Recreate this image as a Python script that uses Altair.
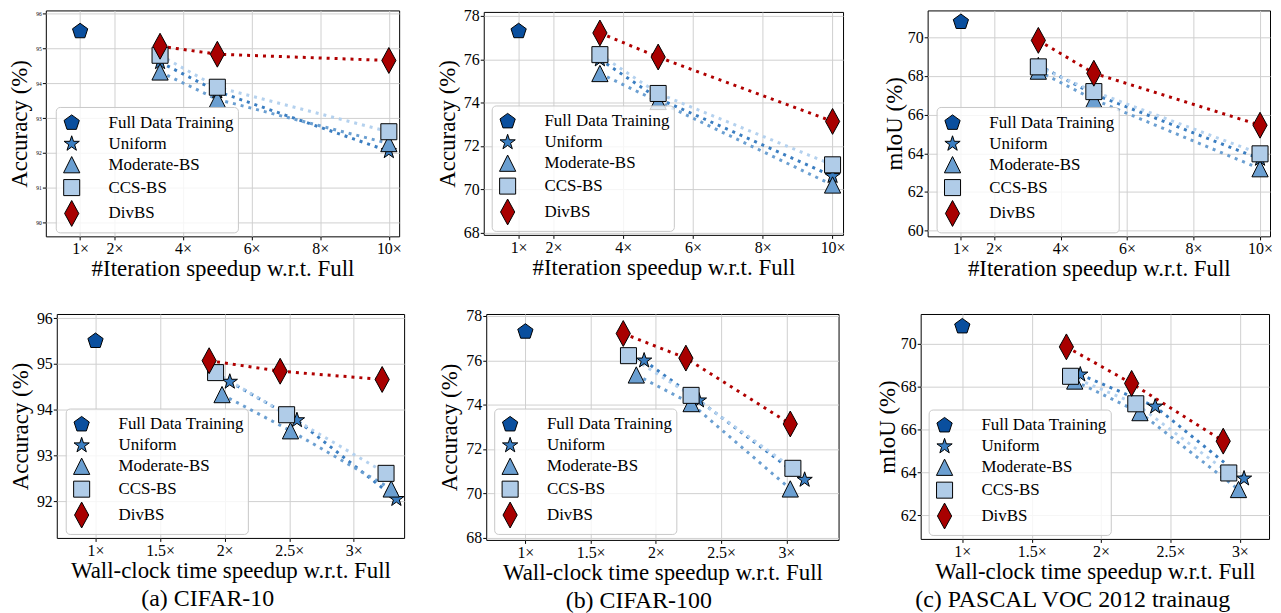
import math
import altair as alt
import pandas as pd

SERIF = "Liberation Serif"

METHODS = ["Full Data Training", "Uniform", "Moderate-BS", "CCS-BS", "DivBS"]
FILL_COLORS = ["#0a4f9e", "#3b7ec1", "#6b9fd1", "#b0cce8", "#a80000"]
LINE_COLORS = ["#3b7ec1", "#6b9fd1", "#b4d1ee", "#b00000"]
EDGE_COLORS = ["black"] * 5

# x positions
FULL_X = 1
ITER_X = [3.33, 5, 10]

# CIFAR-10
c10_full = 95.5
c10_uniform = [94.61, 93.77, 92.05]
c10_moderate = [94.33, 93.54, 92.27]
c10_ccs = [94.81, 93.89, 92.61]
c10_divbs = [95.07, 94.84, 94.66]
c10_wall_uniform = [2.04, 2.56, 3.33]
c10_wall_moderate = [1.98, 2.51, 3.29]
c10_wall_ccs = [1.93, 2.48, 3.25]
c10_wall_divbs = [1.88, 2.43, 3.22]

# CIFAR-100
c100_full = 77.29
c100_uniform = [75.99, 74.19, 70.61]
c100_moderate = [75.34, 74.05, 70.2]
c100_ccs = [76.21, 74.42, 71.13]
c100_divbs = [77.21, 76.1, 73.13]
c100_wall_uniform = [1.91, 2.33, 3.14]
c100_wall_moderate = [1.85, 2.27, 3.03]
c100_wall_ccs = [1.79, 2.27, 3.05]
c100_wall_divbs = [1.75, 2.23, 3.03]

# PASCAL VOC 2012 trainaug
voc_full = 70.79
voc_uniform = [68.55, 67.06, 63.71]
voc_moderate = [68.25, 66.78, 63.2]
voc_ccs = [68.47, 67.19, 63.97]
voc_divbs = [69.84, 68.14, 65.45]
voc_wall_uniform = [1.85, 2.39, 3.03]
voc_wall_moderate = [1.81, 2.28, 2.99]
voc_wall_ccs = [1.78, 2.25, 2.92]
voc_wall_divbs = [1.75, 2.22, 2.88]

ITER_TICKS = [1, 2, 4, 6, 8, 10]
WALL_TICKS = [1, 1.5, 2, 2.5, 3]


# marker shapes (unit box = sqrt(size))
def poly(r, n, start=-90.0, inner=None):
    pts = []
    if inner is None:
        for i in range(n):
            a = math.radians(start + 360.0 * i / n)
            pts.append((r * math.cos(a), r * math.sin(a)))
    else:
        for i in range(2 * n):
            a = math.radians(start + 180.0 * i / n)
            rr = r if i % 2 == 0 else inner
            pts.append((rr * math.cos(a), rr * math.sin(a)))
    return "M" + "L".join(f"{x:.3f},{y:.3f}" for x, y in pts) + "Z"


PENTAGON = poly(0.70, 5)
STAR = poly(0.70, 5, inner=0.27)
TRIANGLE = "M0,-0.71L0.71,0.71L-0.71,0.71Z"
SQUARE = "M-0.70,-0.70L0.70,-0.70L0.70,0.70L-0.70,0.70Z"
DIAMOND = "M0,-1.13L0.62,0L0,1.13L-0.62,0Z"
SHAPES = [PENTAGON, STAR, TRIANGLE, SQUARE, DIAMOND]
SIZE = 529


def make_df(full_x, full_y, xs, ys):
    rows = [{"method": METHODS[0], "x": full_x, "y": full_y, "k": 0}]
    for i, m in enumerate(METHODS[1:]):
        for xv, yv in zip(xs[i], ys[i]):
            rows.append({"method": m, "x": xv, "y": yv, "k": i + 1})
    return pd.DataFrame(rows)


def panel(df, xdom, ydom, xticks, yticks, width, height, xtitle, ytitle,
          ylab_size, ytitle_pad, leg_x, leg_y, caption=None):
    legend = alt.Legend(
        title=None, orient="none", legendX=leg_x, legendY=leg_y,
        symbolSize=SIZE, symbolStrokeColor="black", symbolStrokeWidth=1,
        symbolOpacity=1, labelFont=SERIF, labelFontSize=17, labelColor="black",
        labelOffset=25, rowPadding=0, padding=4, labelLimit=400,
        fillColor="rgba(255,255,255,0.8)", strokeColor="#c8c8c8", cornerRadius=4,
    )
    x = alt.X("x:Q", scale=alt.Scale(domain=xdom, nice=False, zero=False),
              axis=alt.Axis(values=xticks, labelExpr="datum.value + '×'",
                            title=xtitle))
    y = alt.Y("y:Q", scale=alt.Scale(domain=ydom, nice=False, zero=False),
              axis=alt.Axis(values=yticks, title=ytitle, labelFontSize=ylab_size,
                            titlePadding=ytitle_pad))
    base = alt.Chart(df)
    lines = base.transform_filter("datum.k > 0").mark_line(
        strokeDash=[3, 5], strokeWidth=3, strokeCap="butt"
    ).encode(
        x=x, y=y,
        color=alt.Color("method:N", scale=alt.Scale(domain=METHODS[1:], range=LINE_COLORS),
                        legend=None),
    )
    pts = base.mark_point(filled=True, size=SIZE, strokeWidth=1, opacity=1).encode(
        x=x, y=y,
        fill=alt.Fill("method:N", scale=alt.Scale(domain=METHODS, range=FILL_COLORS),
                      legend=legend),
        shape=alt.Shape("method:N", scale=alt.Scale(domain=METHODS, range=SHAPES),
                        legend=legend),
        stroke=alt.Stroke("method:N", scale=alt.Scale(domain=METHODS, range=EDGE_COLORS),
                          legend=legend),
    )
    props = dict(width=width, height=height)
    if caption:
        props["title"] = alt.TitleParams(caption, orient="bottom", anchor="middle",
                                         frame="bounds", font=SERIF, fontSize=24,
                                         fontWeight="normal", color="black", offset=5)
    return alt.layer(lines, pts).properties(**props)


ITER_T = "#Iteration speedup w.r.t. Full"
WALL_T = "Wall-clock time speedup w.r.t. Full"
ACC = "Accuracy (%)"
MIOU = "mIoU (%)"

tl = panel(make_df(FULL_X, c10_full, [ITER_X] * 4, [c10_uniform, c10_moderate, c10_ccs, c10_divbs]),
           [0, 10.3], [89.6, 96.1], ITER_TICKS, [90, 91, 92, 93, 94, 95, 96], 355, 227,
           ITER_T, ACC, 5.5, 4, 10, 97)
tm = panel(make_df(FULL_X, c100_full, [ITER_X] * 4, [c100_uniform, c100_moderate, c100_ccs, c100_divbs]),
           [0, 10.3], [67.9, 78.18], ITER_TICKS, [68, 70, 72, 74, 76, 78], 361, 224,
           ITER_T, ACC, 16, 4, 8, 94)
tr = panel(make_df(FULL_X, voc_full, [ITER_X] * 4, [voc_uniform, voc_moderate, voc_ccs, voc_divbs]),
           [0, 10.3], [59.7, 71.39], ITER_TICKS, [60, 62, 64, 66, 68, 70], 344, 227,
           ITER_T, MIOU, 16, 1, 9, 97)
bl = panel(make_df(FULL_X, c10_full, [c10_wall_uniform, c10_wall_moderate, c10_wall_ccs, c10_wall_divbs],
                   [c10_uniform, c10_moderate, c10_ccs, c10_divbs]),
           [0.70, 3.39], [91.2, 96.09], WALL_TICKS, [92, 93, 94, 95, 96], 349, 225,
           WALL_T, ACC, 16, 4, 9, 95, "(a)  CIFAR-10")
bm = panel(make_df(FULL_X, c100_full, [c100_wall_uniform, c100_wall_moderate, c100_wall_ccs, c100_wall_divbs],
                   [c100_uniform, c100_moderate, c100_ccs, c100_divbs]),
           [0.70, 3.40], [67.9, 78.09], WALL_TICKS, [68, 70, 72, 74, 76, 78], 354, 227,
           WALL_T, ACC, 16, 4, 8, 95, "(b)  CIFAR-100")
br = panel(make_df(FULL_X, voc_full, [voc_wall_uniform, voc_wall_moderate, voc_wall_ccs, voc_wall_divbs],
                   [voc_uniform, voc_moderate, voc_ccs, voc_divbs]),
           [0.70, 3.21], [60.9, 71.37], WALL_TICKS, [62, 64, 66, 68, 70], 350, 226,
           WALL_T, MIOU, 16, 1, 8, 96, "(c)  PASCAL VOC 2012 trainaug")

# invisible 1-px spacer that indents the lower row
spacer = alt.Chart(pd.DataFrame({"v": [0]})).mark_point(opacity=0).encode(
    x=alt.value(0), y=alt.value(0)
).properties(width=1, height=1, view=alt.ViewBackground(strokeOpacity=0))

IND = dict(fill="independent", shape="independent", stroke="independent", color="independent")
LIND = dict(fill="independent", shape="independent", stroke="independent")

row1 = alt.hconcat(tl, tm, tr, spacing=85, bounds="flush", center=True) \
    .resolve_scale(**IND).resolve_legend(**LIND)
row2_inner = alt.hconcat(bl, bm, br, spacing=82.5, bounds="flush") \
    .resolve_scale(**IND).resolve_legend(**LIND)
row2 = alt.hconcat(spacer, row2_inner, spacing=10, bounds="flush") \
    .resolve_scale(**IND).resolve_legend(**LIND)

chart = alt.vconcat(row1, row2, spacing=305, bounds="flush") \
    .resolve_scale(**IND).resolve_legend(**LIND).properties(
    padding={"left": 0, "top": -3, "right": 0, "bottom": 0}, background="white"
).configure_view(
    stroke="black", strokeWidth=1
).configure_axis(
    domain=False, tickColor="black", tickSize=3.5, grid=True, gridColor="#d0d0d0",
    gridWidth=1, labelFont=SERIF, titleFont=SERIF, labelFontSize=16, titleFontSize=23,
    titleFontWeight="normal", labelColor="black", titleColor="black", labelPadding=1,
    titlePadding=1
).configure_legend(
    symbolStrokeColor="black", symbolStrokeWidth=1, symbolOpacity=1,
    fillColor="rgba(255,255,255,0.8)", strokeColor="#c8c8c8", cornerRadius=4,
    padding=4, rowPadding=0, labelOffset=25, labelFont=SERIF, labelFontSize=17,
    labelColor="black", labelLimit=400, symbolSize=SIZE
)

chart.save("out.html", embed_options={"renderer": "svg", "actions": False})
